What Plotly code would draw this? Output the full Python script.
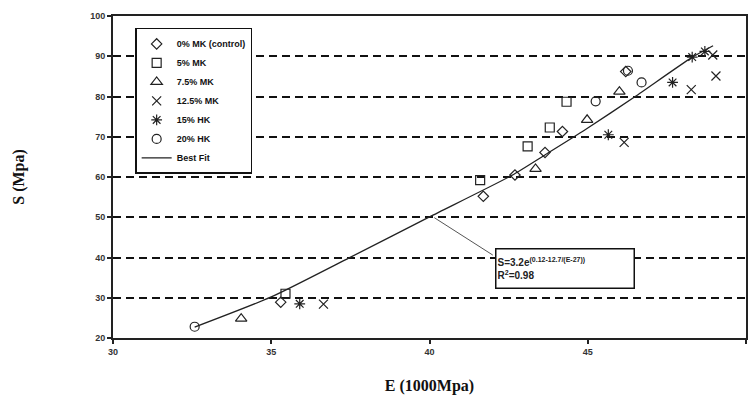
import plotly.graph_objects as go

# ---- data ----
mk0_E = [35.3, 41.7, 42.7, 43.65, 44.2, 46.2]
mk0_S = [28.9, 55.2, 60.5, 66.1, 71.3, 86.2]

mk5_E = [35.45, 41.6, 43.1, 43.8, 44.33]
mk5_S = [31.0, 59.2, 67.6, 72.3, 78.7]

mk75_E = [34.05, 43.35, 44.98, 46.0]
mk75_S = [24.8, 62.0, 74.2, 81.2]

mk125_E = [36.65, 46.15, 48.27, 49.05, 48.95]
mk125_S = [28.4, 68.6, 81.7, 85.1, 90.3]

mk15_E = [35.9, 45.65, 47.68, 48.3, 48.7]
mk15_S = [28.5, 70.5, 83.5, 89.8, 91.2]

mk20_E = [32.58, 45.25, 46.27, 46.7]
mk20_S = [22.8, 78.8, 86.4, 83.5]

fit_E = [32.58, 35.0, 37.46, 40.0, 42.6, 43.67, 44.93, 46.5, 48.27, 48.96]
fit_S = [22.7, 30.2, 39.9, 50.1, 60.4, 65.6, 71.8, 80.0, 89.6, 92.6]

x_ticks = [30, 35, 40, 45, 50]
y_ticks = [20, 30, 40, 50, 60, 70, 80, 90, 100]

series = [
    ("0% MK (control)", mk0_E, mk0_S, "diamond-open", 8),
    ("5% MK", mk5_E, mk5_S, "square-open", 9),
    ("7.5% MK", mk75_E, mk75_S, "triangle-up-open", 10),
    ("12.5% MK", mk125_E, mk125_S, "x-thin-open", 9),
    ("15% HK", mk15_E, mk15_S, "asterisk-open", 9),
    ("20% HK", mk20_E, mk20_S, "circle-open", 9),
]

fig = go.Figure()
for name, xs, ys, sym, sz in series:
    fig.add_trace(go.Scatter(
        x=xs, y=ys, mode="markers", name=name,
        marker=dict(symbol=sym, size=sz, color="#222",
                    line=dict(color="#222", width=1.2)),
    ))

fig.add_trace(go.Scatter(
    x=fit_E, y=fit_S, mode="lines", name="Best Fit",
    line=dict(color="#222", width=1.3, shape="spline", smoothing=0.6),
))

tickfont = dict(family="Liberation Sans", size=9, color="#333", weight="bold")

fig.update_layout(
    width=751, height=404,
    margin=dict(l=113, r=3, t=16, b=66),
    paper_bgcolor="white", plot_bgcolor="white",
    showlegend=True,
    legend=dict(
        x=0.035, y=0.963, xanchor="left", yanchor="top",
        bgcolor="white", bordercolor="#111", borderwidth=1.5,
        font=dict(family="Liberation Sans", size=9, color="#111", weight="bold"),
        tracegroupgap=0, itemwidth=30,
    ),
    xaxis=dict(
        range=[30, 50], tickvals=x_ticks, ticktext=[str(v) for v in x_ticks],
        showline=True, linecolor="#222", linewidth=2, mirror=True,
        ticks="outside", ticklen=4, tickcolor="#222", tickwidth=1.5,
        showgrid=False, zeroline=False, tickfont=tickfont,
        title=dict(text="<b>E (1000Mpa)</b>",
                   font=dict(family="Liberation Serif", size=16, color="#111"),
                   standoff=24),
    ),
    yaxis=dict(
        range=[20, 100], tickvals=y_ticks, ticktext=[str(v) for v in y_ticks],
        showline=True, linecolor="#222", linewidth=2, mirror=True,
        ticks="outside", ticklen=4, tickcolor="#222", tickwidth=1.5,
        showgrid=True, gridcolor="#111", gridwidth=1.6, griddash="8px,5px",
        zeroline=False, tickfont=tickfont,
        title=dict(text="<b>S (Mpa)</b>",
                   font=dict(family="Liberation Serif", size=16, color="#111"),
                   standoff=62),
    ),
)

# leader line from the fit to the equation box
fig.add_shape(type="line", xref="x", yref="y", x0=40.15, y0=49.9, x1=42.0, y1=40.6,
              line=dict(color="#555", width=1))

fig.add_annotation(
    xref="x", yref="y", x=42.06, y=42.4, xanchor="left", yanchor="top",
    text="<b>S=3.2e<sup>(0.12-12.7/(E-27))</sup></b><br><b>R<sup>2</sup>=0.98</b>",
    showarrow=False, align="left", width=135, height=36,
    bgcolor="white", bordercolor="#111", borderwidth=1.5, borderpad=1,
    font=dict(family="Liberation Sans", size=10, color="#222"),
)

fig.write_html("out.html")
